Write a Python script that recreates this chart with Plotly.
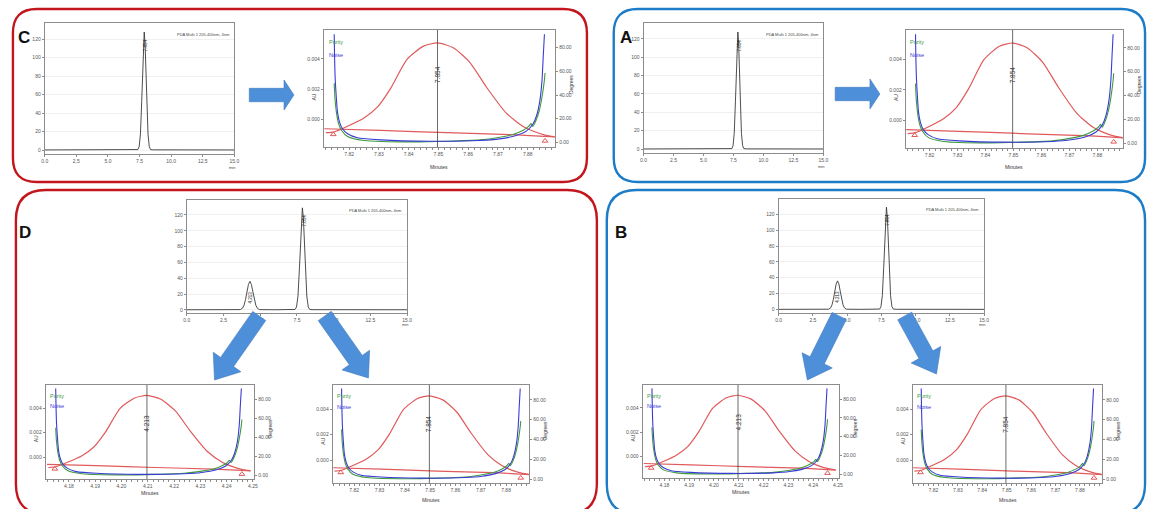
import math
import plotly.graph_objects as go

W, H = 1156, 509

# ---------------- chromatograms (PDA Multi 1 205-400nm, 4nm) ----------------
chrom_single_time = [0.0, 3.0, 6.0, 7.2, 7.37, 7.47, 7.57, 7.67, 7.74, 7.80, 7.87,
                     7.94, 8.00, 8.07, 8.17, 8.27, 8.37, 8.6, 11.0, 15.0]
chrom_single_signal = [0.1, 0.1, 0.1, 0.2, 0.5, 3.6, 17.2, 52.2, 87.3, 113.9, 127.5,
                       113.9, 87.3, 52.2, 17.2, 3.6, 0.5, 0.2, 0.1, 0.1]
chrom_double_time = [0.0, 3.0, 3.65, 3.8, 3.9, 4.0, 4.1, 4.2, 4.3, 4.4, 4.5, 4.6, 4.7, 4.8, 4.95,
                     6.0, 7.2, 7.37, 7.47, 7.57, 7.67, 7.74, 7.80, 7.87,
                     7.94, 8.00, 8.07, 8.17, 8.27, 8.37, 8.6, 11.0, 15.0]
chrom_double_signal = [0.1, 0.1, 0.3, 2.1, 5.9, 13.0, 22.9, 32.1, 36.0, 32.1, 22.9, 13.0, 5.9, 2.1, 0.3,
                       0.1, 0.2, 0.5, 3.6, 17.4, 53.0, 88.6, 115.3, 129.0,
                       115.3, 88.6, 53.0, 17.4, 3.6, 0.5, 0.2, 0.1, 0.1]
chrom_xticks = [0.0, 2.5, 5.0, 7.5, 10.0, 12.5, 15.0]
chrom_yticks = [0, 20, 40, 60, 80, 100, 120]
peak_labels = ["4.213", "7.854"]

# ---------------- peak purity plots ----------------
# shared ordinates
peak_au = [-0.00086, -0.00080, -0.00043, 0.00011, 0.00082, 0.00204, 0.00398, 0.00484, 0.00505,
           0.00473, 0.00376, 0.00215, 0.00043, -0.00043, -0.00075, -0.00103, -0.00112]
threshold_au = [-0.00060, -0.00071, -0.00086, -0.00099, -0.00108, -0.00114]
noise_deg = [91.4, 75.7, 55.7, 38.5, 25.7, 17.1, 11.4, 7.2, 3.8, 2.0, 0.9, 1.5, 2.9, 5.7,
             9.4, 15.2, 22.9, 35.7, 52.8, 72.8, 91.4]
purity_deg = [50.0, 35.7, 24.3, 15.7, 10.0, 4.9, 1.5, 0.3, 2.0, 4.3, 6.6, 10.0, 13.4, 15.8,
              13.4, 18.6, 27.1, 38.5, 52.8, 58.6]
limit_au = [-0.00097, -0.00140]

# peak 7.854
p7_peak_time = [7.8122, 7.8150, 7.8195, 7.8250, 7.8295, 7.8339, 7.8395, 7.8450, 7.8497,
                7.8550, 7.8606, 7.8661, 7.8728, 7.8783, 7.8817, 7.8861, 7.8889]
p7_thr_time = [7.8117, 7.8306, 7.8528, 7.8750, 7.8839, 7.8892]
p7_noise_time = [7.8150, 7.8151, 7.8153, 7.8157, 7.8161, 7.8168, 7.8178, 7.8195, 7.8228, 7.8306,
                 7.8472, 7.8639, 7.8706, 7.8761, 7.8795, 7.8817, 7.8830, 7.8841, 7.8848, 7.8852, 7.8856]
p7_purity_time = [7.8150, 7.8153, 7.8158, 7.8165, 7.8175, 7.8195, 7.8250, 7.8417, 7.8639, 7.8706,
                  7.8750, 7.8783, 7.8803, 7.8811, 7.8817, 7.8828, 7.8839, 7.8848, 7.8856, 7.8858]
p7_limit_time = [7.8147, 7.8858]
p7_apex = 7.8497
p7_xticks = [7.82, 7.83, 7.84, 7.85, 7.86, 7.87, 7.88]

# peak 4.213
p4_peak_time = [4.1722, 4.1750, 4.1795, 4.1850, 4.1895, 4.1939, 4.1995, 4.2050, 4.2097,
                4.2150, 4.2206, 4.2261, 4.2328, 4.2383, 4.2417, 4.2461, 4.2489]
p4_thr_time = [4.1717, 4.1906, 4.2128, 4.2350, 4.2439, 4.2492]
p4_noise_time = [4.1750, 4.1751, 4.1753, 4.1757, 4.1761, 4.1768, 4.1778, 4.1795, 4.1828, 4.1906,
                 4.2072, 4.2239, 4.2306, 4.2361, 4.2395, 4.2417, 4.2430, 4.2441, 4.2448, 4.2452, 4.2456]
p4_purity_time = [4.1750, 4.1753, 4.1758, 4.1765, 4.1775, 4.1795, 4.1850, 4.2017, 4.2239, 4.2306,
                  4.2350, 4.2383, 4.2403, 4.2411, 4.2417, 4.2428, 4.2439, 4.2448, 4.2456, 4.2458]
p4_limit_time = [4.1747, 4.2458]
p4_apex = 4.2097
p4_xticks = [4.18, 4.19, 4.20, 4.21, 4.22, 4.23, 4.24, 4.25]

au_ticks = [0.0, 0.002, 0.004]
deg_ticks = [0, 20, 40, 60, 80]

# ---------------- styling ----------------
FONT = "Liberation Sans Narrow, Liberation Sans, Arial, sans-serif"
TICKFONT = dict(family=FONT, size=5, color="#555555")
FRAME = "#8c8c8c"
RED_BOX = "#c3161c"
BLUE_BOX = "#1c7cc7"
ARROW = "#4d8fd8"
C_RED = "#e05a5c"
C_GREEN = "#3f9a3f"
C_BLUE = "#3a3ad6"

fig = go.Figure()
layout = dict(width=W, height=H, margin=dict(l=0, r=0, t=0, b=0, pad=0),
              paper_bgcolor="white", plot_bgcolor="white", showlegend=False,
              shapes=[], annotations=[], font=dict(family=FONT))
cnt = {"x": 0, "y": 0}


def nm(p, n):
    return p + ("" if n == 1 else str(n))


def xd(a, b):
    return [a / W, b / W]


def yd(a, b):
    return [1 - b / H, 1 - a / H]


def ann(text, px, py, size, color="#333333", angle=0, xanchor="center", yanchor="middle", bold=False):
    if bold:
        text = "<b>" + text + "</b>"
    layout["annotations"].append(dict(text=text, x=px / W, y=1 - py / H, xref="paper", yref="paper",
                                      showarrow=False, textangle=angle, xanchor=xanchor, yanchor=yanchor,
                                      font=dict(size=size, color=color, family=FONT)))


AX = dict(showline=True, mirror=True, linecolor=FRAME, linewidth=1, ticks="outside", ticklen=2,
          tickwidth=0.8, tickcolor=FRAME, tickfont=TICKFONT, showgrid=False, zeroline=False,
          fixedrange=True)


def add_chrom(frame, t, s, yrange, labels):
    x0, x1, y0, y1 = frame
    cnt["x"] += 1
    cnt["y"] += 1
    xi, yi = cnt["x"], cnt["y"]
    xr, yr = nm("x", xi), nm("y", yi)
    layout[nm("xaxis", xi)] = dict(domain=xd(x0, x1), anchor=yr, range=[0, 15], tickvals=chrom_xticks,
                                   ticktext=[f"{v:.1f}" for v in chrom_xticks], **AX)
    ya = dict(AX)
    ya.update(showgrid=True, gridcolor="#f0f0f0", gridwidth=0.6)
    layout[nm("yaxis", yi)] = dict(domain=yd(y0, y1), anchor=xr, range=yrange, tickvals=chrom_yticks,
                                   ticktext=[str(v) for v in chrom_yticks], **ya)
    fig.add_trace(go.Scatter(x=t, y=s, xaxis=xr, yaxis=yr, mode="lines",
                             line=dict(color="#3a3a3a", width=0.9), hoverinfo="skip"))
    layout["annotations"].append(dict(text="PDA Multi 1 205-400nm, 4nm", xref=xr + " domain",
                                      yref=yr + " domain", x=0.985, y=0.95, xanchor="right",
                                      yanchor="top", showarrow=False,
                                      font=dict(size=4, color="#444444", family=FONT)))
    layout["annotations"].append(dict(text="min", xref=xr + " domain", yref=yr + " domain", x=0.99,
                                      y=-0.1, xanchor="center", yanchor="middle", showarrow=False,
                                      font=dict(size=4, color="#444444", family=FONT)))
    for name, tx, ty in labels:
        layout["annotations"].append(dict(text=name, xref=xr, yref=yr, x=tx, y=ty, textangle=-90,
                                          showarrow=False,
                                          font=dict(size=4.5, color="#222222", family=FONT)))


def add_purity(frame, xrange, xticks, times, apex, label, min_off):
    pk_t, thr_t, pur_t, noi_t, lim_t = times
    x0, x1, y0, y1 = frame
    cnt["x"] += 1
    xi = cnt["x"]
    cnt["y"] += 1
    yi = cnt["y"]
    cnt["y"] += 1
    yj = cnt["y"]
    xr, yr, yr2 = nm("x", xi), nm("y", yi), nm("y", yj)
    layout[nm("xaxis", xi)] = dict(domain=xd(x0, x1), anchor=yr, range=xrange, tickvals=xticks,
                                   ticktext=[f"{v:.2f}" for v in xticks],
                                   minor=dict(ticks="outside", ticklen=1.5, dtick=0.002, tick0=0,
                                              tickcolor=FRAME, showgrid=False), **AX)
    layout[nm("yaxis", yi)] = dict(domain=yd(y0, y1), anchor=xr, range=[-0.0018, 0.0059],
                                   tickvals=au_ticks, ticktext=[f"{v:.3f}" for v in au_ticks], **AX)
    layout[nm("yaxis", yj)] = dict(overlaying=yr, anchor=xr, side="right", range=[-4, 95],
                                   tickvals=deg_ticks, ticktext=[f"{v:.2f}" for v in deg_ticks],
                                   showline=False, ticks="outside", ticklen=2, tickcolor=FRAME,
                                   tickfont=TICKFONT, showgrid=False, zeroline=False, fixedrange=True)
    sp = dict(shape="spline", smoothing=0.6)
    fig.add_trace(go.Scatter(x=thr_t, y=threshold_au, xaxis=xr, yaxis=yr, mode="lines",
                             line=dict(color=C_RED, width=1.2, **sp), hoverinfo="skip"))
    fig.add_trace(go.Scatter(x=pk_t, y=peak_au, xaxis=xr, yaxis=yr, mode="lines",
                             line=dict(color=C_RED, width=1.2, **sp), hoverinfo="skip"))
    fig.add_trace(go.Scatter(x=pur_t, y=purity_deg, xaxis=xr, yaxis=yr2, mode="lines",
                             line=dict(color=C_GREEN, width=1.1, **sp), hoverinfo="skip"))
    fig.add_trace(go.Scatter(x=noi_t, y=noise_deg, xaxis=xr, yaxis=yr2, mode="lines",
                             line=dict(color=C_BLUE, width=1.1, **sp), hoverinfo="skip"))
    fig.add_trace(go.Scatter(x=lim_t, y=limit_au, xaxis=xr, yaxis=yr, mode="markers",
                             marker=dict(symbol="triangle-up-open", size=5, color=C_RED,
                                         line=dict(width=1)), hoverinfo="skip"))
    layout["shapes"].append(dict(type="line", xref=xr, yref=yr + " domain", x0=apex, x1=apex, y0=0,
                                 y1=1, line=dict(color="#444444", width=0.8)))
    layout["annotations"].append(dict(text=label, xref=xr, yref=yr + " domain", x=apex, y=0.71,
                                      textangle=-90, showarrow=False,
                                      font=dict(size=6.5, color="#333333", family=FONT)))
    layout["annotations"].append(dict(text="Purity", xref=xr + " domain", yref=yr + " domain",
                                      x=0.012, y=0.94, xanchor="left", showarrow=False,
                                      font=dict(size=5.5, color=C_GREEN, family=FONT)))
    layout["annotations"].append(dict(text="Noise", xref=xr + " domain", yref=yr + " domain",
                                      x=0.012, y=0.83, xanchor="left", showarrow=False,
                                      font=dict(size=5.5, color=C_BLUE, family=FONT)))
    hgt = y1 - y0
    ann("AU", x0 - 10, y0 + 0.57 * hgt, 5, angle=-90)
    ann("Degrees", x1 + 16, y0 + 0.47 * hgt, 5, angle=-90)
    ann("Minutes", (x0 + x1) / 2, y1 + min_off, 5)


def rbox(x0, y0, x1, y1, r, color):
    rx, ry = r / W, r / H
    X0, X1 = x0 / W, x1 / W
    Yt, Yb = 1 - y0 / H, 1 - y1 / H
    path = (f"M {X0 + rx},{Yt} L {X1 - rx},{Yt} Q {X1},{Yt} {X1},{Yt - ry} "
            f"L {X1},{Yb + ry} Q {X1},{Yb} {X1 - rx},{Yb} L {X0 + rx},{Yb} "
            f"Q {X0},{Yb} {X0},{Yb + ry} L {X0},{Yt - ry} Q {X0},{Yt} {X0 + rx},{Yt} Z")
    layout["shapes"].append(dict(type="path", xref="paper", yref="paper", path=path,
                                 line=dict(color=color, width=2.4), fillcolor="rgba(0,0,0,0)",
                                 layer="above"))


def arrow(x0, y0, x1, y1, sw, hw, hl):
    dx, dy = x1 - x0, y1 - y0
    L = math.hypot(dx, dy)
    ux, uy = dx / L, dy / L
    nx, ny = -uy, ux
    bx, by = x1 - ux * hl, y1 - uy * hl
    pts = [(x0 + nx * sw, y0 + ny * sw), (bx + nx * sw, by + ny * sw), (bx + nx * hw, by + ny * hw),
           (x1, y1), (bx - nx * hw, by - ny * hw), (bx - nx * sw, by - ny * sw),
           (x0 - nx * sw, y0 - ny * sw)]
    path = "M " + " L ".join(f"{px / W:.5f},{1 - py / H:.5f}" for px, py in pts) + " Z"
    layout["shapes"].append(dict(type="path", xref="paper", yref="paper", path=path, fillcolor=ARROW,
                                 line=dict(color="#3f78bd", width=0.6), layer="above"))


# chromatograms
add_chrom((42, 233, 23, 154), chrom_single_time, chrom_single_signal, [-4.3, 137.3],
          [(peak_labels[1], 7.99, 113)])
add_chrom((645, 826, 23, 153), chrom_single_time, chrom_single_signal, [-4.3, 137.3],
          [(peak_labels[1], 7.99, 113)])
add_chrom((185, 407, 200, 313), chrom_double_time, chrom_double_signal, [-4.0, 138.9],
          [(peak_labels[1], 7.98, 113), (peak_labels[0], 4.33, 16)])
add_chrom((781, 988, 199, 313), chrom_double_time, chrom_double_signal, [-4.5, 139.3],
          [(peak_labels[1], 7.98, 113), (peak_labels[0], 4.33, 16)])

t7 = (p7_peak_time, p7_thr_time, p7_purity_time, p7_noise_time, p7_limit_time)
t4 = (p4_peak_time, p4_thr_time, p4_purity_time, p4_noise_time, p4_limit_time)
r7 = [7.8115, 7.8892]
r4 = [4.1712, 4.2505]

add_purity((323, 556, 30, 147), r7, p7_xticks, t7, p7_apex, peak_labels[1], 20)
add_purity((909, 1128, 30, 148), r7, p7_xticks, t7, p7_apex, peak_labels[1], 19)
add_purity((43, 253, 385, 479), r4, p4_xticks, t4, p4_apex, peak_labels[0], 14)
add_purity((332, 530, 385, 483), r7, p7_xticks, t7, p7_apex, peak_labels[1], 17)
add_purity((644, 842, 385, 478), r4, p4_xticks, t4, p4_apex, peak_labels[0], 14)
add_purity((916, 1107, 385, 483), r7, p7_xticks, t7, p7_apex, peak_labels[1], 17)

# panel frames
rbox(10, 9, 588, 182, 24, RED_BOX)
rbox(615, 9, 1150, 182, 24, BLUE_BOX)
rbox(13, 190, 598, 514, 30, RED_BOX)
rbox(608, 190, 1150, 514, 30, BLUE_BOX)

# arrows
arrow(248, 95, 293, 95, 6.7, 15, 10)
arrow(838, 94, 883, 94, 6.7, 15, 10)
arrow(258, 316, 213, 380, 8, 17, 22)
arrow(324, 316, 368, 378, 8, 17, 22)
arrow(842, 316, 810, 380, 8, 17, 22)
arrow(908, 316, 940, 374, 8, 17, 22)

# panel letters
ann("C", 21, 37, 17, color="#111111", bold=True)
ann("A", 627, 38, 17, color="#111111", bold=True)
ann("D", 22, 233, 17, color="#111111", bold=True)
ann("B", 622, 232, 17, color="#111111", bold=True)

fig.update_layout(**layout)
fig.write_html("out.html", config={"displayModeBar": False},
               post_script="document.body.style.margin='0';document.body.style.padding='0';"
                           "document.body.style.overflow='hidden';")
